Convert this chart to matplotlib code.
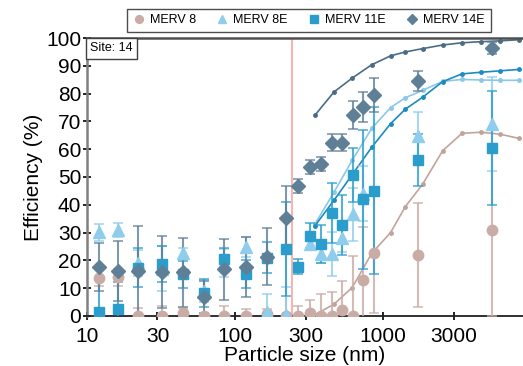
import numpy as np
import matplotlib
matplotlib.use("Agg")
import matplotlib.pyplot as plt
from matplotlib.ticker import FixedLocator, NullLocator

plt.rcParams['font.family'] = ['Liberation Sans', 'DejaVu Sans']

nan = np.nan

# measured size bins (nm)
size = [12.1, 16.2, 22.2, 32.3, 44.5, 62, 84.3, 118, 164, 221,
        266, 323, 381, 450, 528, 624, 736, 869, 1715, 5425]

# measured efficiencies (%) and error half-widths
merv8 = [13.8, 13.9, 0, 0, 1.2, 0, 0, 0, 0.6, 0,
         0, 1, 0, 0, 2.2, 0, 13, 22.5, 21.9, 30.9]
merv8_err = [3, 3, 3, 3.5, 1.5, 0.5, 3.6, 2.6, 2, 36,
             3.4, 4.7, 7.9, 8.7, 10.4, 21.6, 19, 21.5, 18.7, 31]

merv8e = [30.1, 30.8, 19, 17, 22.6, 9, 19, 24.9, 1.5, 0.3,
          nan, 26, 22.2, 22.3, 27.9, 36.6, 44, nan, 64.7, 69]
merv8e_err = [3, 2.5, 4.7, 8, 2, 4, 5, 3.6, 6.5, 10,
              nan, 2, 3, 8, 5, 9.6, 10, nan, 8.6, 17]

merv11e = [1.4, 2.6, 17.3, 18.8, 14.9, 8.3, 20.5, 15.2, 21, 24,
           17.7, 28.8, 25.9, 36.9, 32.7, 50.7, 42, 45.1, 56.1, 60.3]
merv11e_err = [12, 9.5, 7, 6.5, 5, 5, 4, 5, 5.5, 17,
               2.7, 4.5, 6.8, 10.8, 10.8, 9.6, 25, 30, 9.5, 20.5]

merv14e = [17.7, 16.2, 16.2, 15.9, 15.7, 6.8, 16.7, 17.7, 21.3, 35.1,
           46.8, 53.7, 54.7, 62.3, 62.3, 72.3, 75.1, 79.5, 84.6, 96.5]
merv14e_err = [8.7, 10.7, 16.3, 13, 12.5, 5.6, 11, 10.8, 10.3, 11.5,
               2.6, 2.5, 2.5, 3, 3, 4.9, 5.4, 6, 3.6, 2.2]

# rated curves (nm, %)
curve_size = [347, 467, 620, 840, 1127, 1416, 1854, 2529, 3417, 4593, 6180, 8262]
curve8 = [0.4, 4.2, 10.2, 22.5, 30, 39.3, 47.4, 59.4, 65.7, 66.1, 65.4, 63.9]
curve8e = [33, 44.5, 56, 67.5, 75, 78.5, 81.2, 84.4, 85.1, 84.9, 84.8, 84.8]
curve11e = [32.4, 41.6, 50.8, 60.7, 69.2, 74.4, 78.7, 84.3, 87.1, 87.7, 88.2, 88.7]
curve14e = [72.2, 80.6, 85.6, 90.4, 93.6, 95, 96.2, 97.5, 98.3, 98.7, 99, 99.4]

cut_size = 243

fig = plt.figure(figsize=(5.23, 3.66), dpi=100)
ax = fig.add_axes([0.166, 0.137, 0.834, 0.759])

ax.axvline(cut_size, color='#f5b5b5', lw=1.5, zorder=1)

series = [
    ('MERV 8', merv8, merv8_err, curve8, '#c9aca6', '#c2a39c', 'o', 7.5),
    ('MERV 8E', merv8e, merv8e_err, curve8e, '#8fcdec', '#8bc8e8', '^', 8),
    ('MERV 11E', merv11e, merv11e_err, curve11e, '#2b9dcc', '#1c8bc0', 's', 7),
    ('MERV 14E', merv14e, merv14e_err, curve14e, '#5f7f96', '#4b6c84', 'D', 7),
]

for name, y, err, cy, col, lcol, mk, ms in series:
    ax.plot(curve_size, cy, color=lcol, lw=1.2, marker='o', ms=2.5, zorder=2)
    eb = ax.errorbar(size, y, yerr=err, fmt=mk, color=col, ms=ms, mec=col,
                     ecolor=col, elinewidth=1.5, capsize=3.5, capthick=1.2,
                     zorder=3, label=name)
    for part in eb[1] + eb[2]:
        part.set_alpha(0.8)

ax.set_xscale('log')
ax.set_xlim(10, 8830)
ax.set_ylim(0, 100)
ax.xaxis.set_major_locator(FixedLocator([10, 30, 100, 300, 1000, 3000]))
ax.xaxis.set_minor_locator(NullLocator())
ax.set_xticklabels(['10', '30', '100', '300', '1000', '3000'])
ax.set_yticks(range(0, 101, 10))
ax.tick_params(axis='both', direction='inout', length=6, width=1.2,
               labelsize=15)
ax.tick_params(axis='x', pad=5)
ax.tick_params(axis='y', pad=1)
ax.set_xlabel('Particle size (nm)', fontsize=15, labelpad=0)
ax.set_ylabel('Efficiency (%)', fontsize=15, labelpad=2)

ax.spines['left'].set_color('#808080')
ax.spines['left'].set_linewidth(1.8)
ax.spines['top'].set_color('#505050')
ax.spines['top'].set_linewidth(1.8)
ax.spines['bottom'].set_color('#202020')
ax.spines['bottom'].set_linewidth(1.3)
ax.spines['right'].set_visible(False)

ax.text(0.008, 0.985, 'Site: 14', transform=ax.transAxes, fontsize=9,
        va='top', ha='left',
        bbox=dict(boxstyle='square,pad=0.35', fc='white', ec='#404040', lw=1))

handles, labels = ax.get_legend_handles_labels()
handles = [h[0] for h in handles]
leg = fig.legend(handles, labels, loc='center', bbox_to_anchor=(0.59, 0.945),
                 ncol=4, fontsize=9, frameon=True, fancybox=False,
                 edgecolor='#202020', handletextpad=0.4, columnspacing=1.6,
                 handlelength=1.0, borderpad=0.45, markerscale=0.75)
leg.get_frame().set_linewidth(1)

fig.savefig('out.png', dpi=100)
